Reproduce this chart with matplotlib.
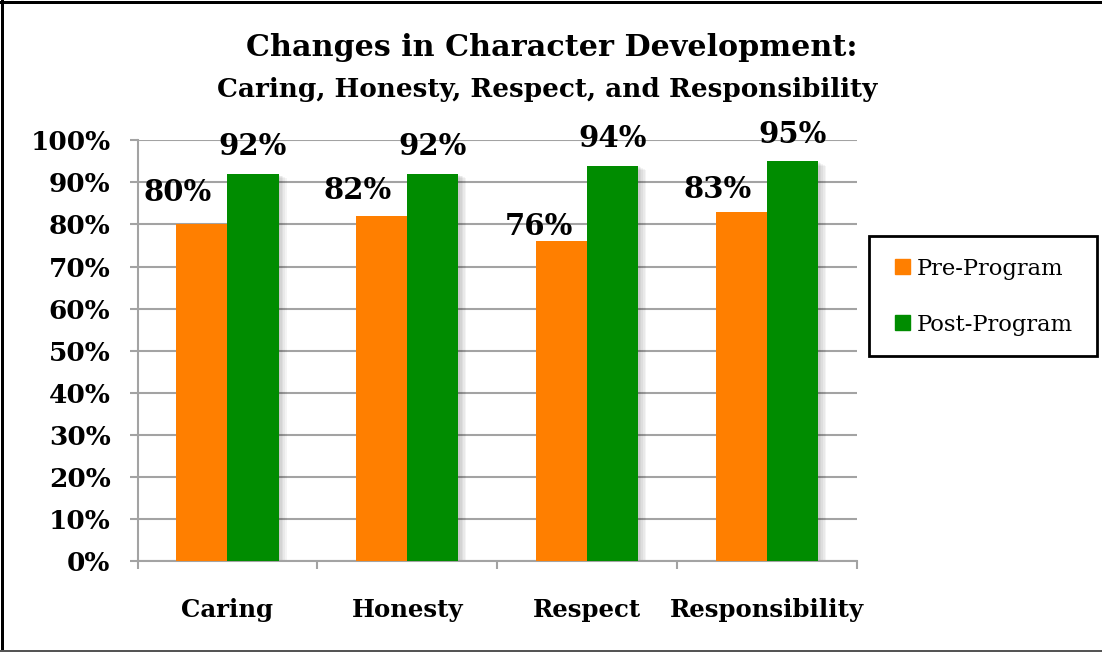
import matplotlib
matplotlib.use("Agg")
import matplotlib.pyplot as plt
from matplotlib.patches import Patch, Rectangle
from matplotlib.lines import Line2D
import numpy as np

# data
categories = ["Caring", "Honesty", "Respect", "Responsibility"]
pre_program = [80, 82, 76, 83]
post_program = [92, 92, 94, 95]
series_names = ["Pre-Program", "Post-Program"]

title = "Changes in Character Development:"
subtitle = "Caring, Honesty, Respect, and Responsibility"

# label nudges in pixels (the original labels were dragged by hand)
pre_label_dx = [-24, -24, -23, -24]
pre_label_dy = [32, 26, 15, 22]
post_label_dx = [0, 0, 0, 0]
post_label_dy = [27, 27, 27, 27]

ORANGE = "#FF7F00"
GREEN = "#008C00"
GRID = "#A3A3A3"
FONT = "DejaVu Serif"

W, H = 1102, 652
PX = 0.72  # points per pixel at dpi 100

plt.rcParams["font.family"] = FONT

fig = plt.figure(figsize=(W / 100, H / 100), dpi=100)
fig.patch.set_facecolor("white")

ax_left, ax_right, ax_top, ax_bot = 137.5, 857, 140.3, 561
ax = fig.add_axes([ax_left / W, 1 - ax_bot / H, (ax_right - ax_left) / W, (ax_bot - ax_top) / H])

x = np.arange(len(categories))
bw = 0.284
cat_px = (ax_right - ax_left) / len(categories)

pre = np.array(pre_program) / 100
post = np.array(post_program) / 100

# soft drop shadow
for k in range(1, 6):
    off = k * 1.6 / cat_px
    for xs, vals in [(x - bw / 2, pre), (x + bw / 2, post)]:
        ax.bar(xs + off, vals - k * 0.002, bw, color="black", alpha=0.045, zorder=2, linewidth=0)

ax.bar(x - bw / 2, pre, bw, color=ORANGE, zorder=3, linewidth=0, label=series_names[0])
ax.bar(x + bw / 2, post, bw, color=GREEN, zorder=3, linewidth=0, label=series_names[1])

for i in range(len(categories)):
    ax.annotate(f"{pre_program[i]}%", (x[i] - bw / 2, pre[i]),
                xytext=(pre_label_dx[i] * PX, pre_label_dy[i] * PX), textcoords="offset points",
                ha="center", va="center", fontsize=21, fontweight="bold", zorder=5)
    ax.annotate(f"{post_program[i]}%", (x[i] + bw / 2, post[i]),
                xytext=(post_label_dx[i] * PX, post_label_dy[i] * PX), textcoords="offset points",
                ha="center", va="center", fontsize=21, fontweight="bold", zorder=5)

ax.set_xlim(-0.5, len(categories) - 0.5)
ax.set_ylim(0, 1)
ax.set_yticks(np.arange(0, 1.01, 0.1))
ax.set_yticklabels([f"{int(round(v * 100))}%" for v in np.arange(0, 1.01, 0.1)],
                   fontsize=19, fontweight="bold")
ax.set_xticks(x)
ax.set_xticklabels(categories, fontsize=17.6, fontweight="bold")
ax.set_xticks(np.arange(-0.5, len(categories)), minor=True)

ax.tick_params(axis="x", which="major", length=0, pad=27)
ax.tick_params(axis="x", which="minor", length=8 * PX, width=1.5, color=GRID, direction="out")
ax.tick_params(axis="y", length=8 * PX, width=1.5, color=GRID, pad=19 * PX)

ax.yaxis.grid(True, color=GRID, linewidth=1.5)
ax.set_axisbelow(True)
for s in ["top", "right"]:
    ax.spines[s].set_visible(False)
for s in ["left", "bottom"]:
    ax.spines[s].set_color(GRID)
    ax.spines[s].set_linewidth(1.5)

fig.text(551.5 / W, 1 - 48 / H, title, ha="center", va="center", fontsize=21.7, fontweight="bold")
fig.text(547.5 / W, 1 - 89 / H, subtitle, ha="center", va="center", fontsize=18.9, fontweight="bold")

# legend with a hand placed frame
handles = [Patch(color=ORANGE, label=series_names[0]), Patch(color=GREEN, label=series_names[1])]
fig.legend(handles=handles, loc="center left", bbox_to_anchor=(895 / W, 1 - 296.7 / H),
           frameon=False, fontsize=16.3, borderpad=0, borderaxespad=0,
           handlelength=0.66, handleheight=0.66, handletextpad=0.3, labelspacing=1.5)
fig.add_artist(Rectangle((869 / W, 1 - 356 / H), (1097 - 869) / W, (356 - 236) / H,
                         transform=fig.transFigure, fill=False, edgecolor="black", linewidth=2))

# outer border (right side is cut off in the original)
fig.add_artist(Line2D([0, 1], [1 - 1.5 / H, 1 - 1.5 / H], transform=fig.transFigure, color="black", linewidth=3 * PX))
fig.add_artist(Line2D([1.5 / W, 1.5 / W], [0, 1], transform=fig.transFigure, color="black", linewidth=3 * PX))
fig.add_artist(Line2D([0, 1], [1 - 650.5 / H, 1 - 650.5 / H], transform=fig.transFigure, color="#555555", linewidth=2 * PX))

fig.savefig("out.png", dpi=100)
